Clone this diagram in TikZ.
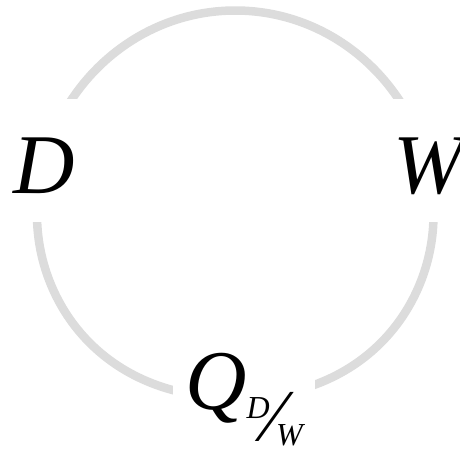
\documentclass[tikz,border=0pt]{standalone}
\usepackage{fontspec}
\setmainfont{Liberation Serif}
\definecolor{ringgray}{RGB}{220,220,220}
\begin{document}
\begin{tikzpicture}[x=1pt,y=-1pt,
  ring/.style={draw=ringgray,line width=8.5pt},
  cover/.style={fill=white,inner ysep=0pt},
  biglbl/.style={cover,inner xsep=8pt,text height=94pt,text depth=29pt,
    font=\fontsize{85pt}{85pt}\selectfont\itshape,anchor=base west}]
\useasboundingbox (0,0) rectangle (460,448);
\draw[ring] (37,215) .. controls (37,102.1) and (125.85,10.5) .. (235.25,10.5)
  .. controls (344.65,10.5) and (433.5,102.1) .. (433.5,215)
  .. controls (433.5,301.7) and (369,398) .. (235.25,398)
  .. controls (101.5,398) and (37,301.7) .. (37,215) -- cycle;
\node[biglbl] (D) at (5.3,193) {D};
\node[biglbl] (W) at (385.5,193) {W};
\node[cover,inner xsep=12.5pt,text height=64.6pt,text depth=37pt,anchor=base west] (Q) at (172.9,409.6)
  {{\fontsize{85pt}{85pt}\selectfont\itshape Q}\kern-0.3pt\raisebox{-8.4pt}{\fontsize{32pt}{32pt}\selectfont\itshape D}\kern-1.2pt\raisebox{-32pt}{\fontsize{75pt}{75pt}\selectfont ⁄}\kern-5pt\raisebox{-35.4pt}{\fontsize{32pt}{32pt}\selectfont\itshape W}\hspace{10pt}};
\end{tikzpicture}
\end{document}
